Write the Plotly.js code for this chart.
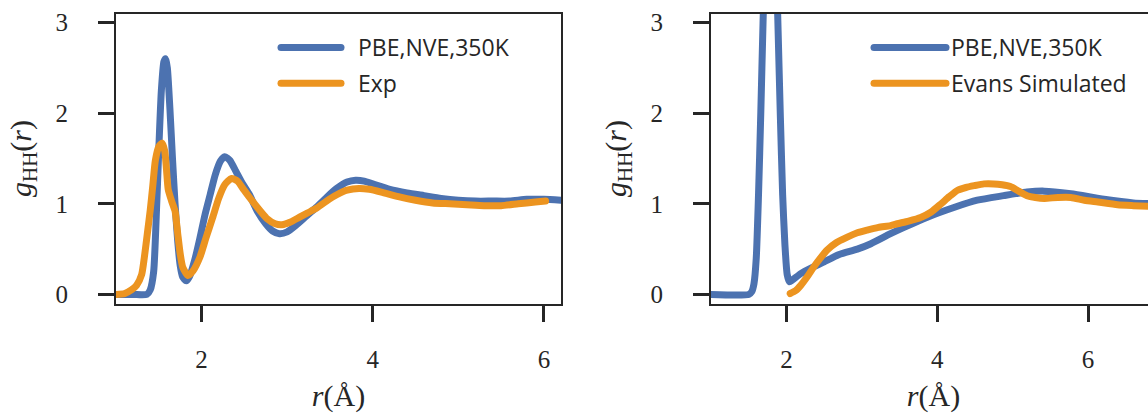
<!DOCTYPE html>
<html><head><meta charset="utf-8">
<script src="https://cdn.plot.ly/plotly-3.0.1.min.js"></script>
<style>
html,body{margin:0;padding:0;overflow:hidden;background:#fff;}
#chart{width:1160px;height:419px;}
.js-line{stroke-linecap:round !important;}
</style></head><body><div id="chart"></div><script>
// Left panel: PBE,NVE,350K
const rLeftPBE = [1.00,1.20,1.36,1.40,1.44,1.47,1.50,1.53,1.56,1.58,1.60,1.63,1.66,1.69,1.72,1.75,1.78,1.82,1.86,1.92,1.98,2.04,2.10,2.16,2.22,2.27,2.33,2.40,2.48,2.56,2.65,2.75,2.83,2.91,3.00,3.10,3.22,3.34,3.46,3.58,3.70,3.80,3.90,4.00,4.20,4.40,4.60,4.80,5.00,5.20,5.40,5.60,5.80,6.00,6.20];
const gLeftPBE = [0.00,0.00,0.00,0.05,0.25,0.85,1.60,2.25,2.57,2.60,2.50,2.05,1.50,1.00,0.60,0.32,0.19,0.15,0.20,0.38,0.62,0.88,1.10,1.32,1.47,1.52,1.48,1.36,1.22,1.10,0.92,0.78,0.70,0.67,0.69,0.76,0.86,0.96,1.07,1.17,1.24,1.26,1.25,1.22,1.16,1.12,1.09,1.06,1.04,1.03,1.03,1.03,1.05,1.05,1.04];
// Left panel: Exp
const rLeftExp = [1.00,1.10,1.18,1.24,1.30,1.33,1.37,1.40,1.43,1.46,1.50,1.54,1.57,1.59,1.61,1.65,1.69,1.72,1.75,1.78,1.84,1.90,1.98,2.05,2.13,2.20,2.27,2.35,2.42,2.49,2.56,2.66,2.76,2.86,2.94,3.04,3.14,3.24,3.34,3.46,3.58,3.70,3.84,3.96,4.10,4.30,4.50,4.70,4.90,5.10,5.30,5.50,5.70,5.90,6.02];
const gLeftExp = [0.00,0.01,0.05,0.10,0.22,0.40,0.70,0.93,1.20,1.48,1.63,1.67,1.58,1.38,1.16,1.03,0.92,0.68,0.45,0.30,0.21,0.26,0.41,0.62,0.85,1.06,1.21,1.28,1.25,1.16,1.07,0.95,0.84,0.78,0.77,0.80,0.85,0.90,0.95,1.03,1.10,1.15,1.17,1.16,1.13,1.08,1.04,1.01,1.00,0.99,0.98,0.98,1.00,1.02,1.03];
// Right panel: PBE,NVE,350K
const rRightPBE = [1.00,1.50,1.54,1.57,1.60,1.63,1.66,1.69,1.72,1.75,1.79,1.83,1.86,1.89,1.92,1.95,1.98,2.01,2.04,2.08,2.19,2.35,2.50,2.70,2.94,3.12,3.38,3.56,3.86,4.22,4.53,4.88,5.19,5.42,5.77,6.21,6.60,6.90];
const gRightPBE = [0.00,0.00,0.03,0.12,0.40,1.10,2.00,3.00,3.90,4.60,5.00,4.60,3.85,2.90,1.95,1.10,0.55,0.22,0.14,0.16,0.23,0.30,0.36,0.44,0.50,0.56,0.67,0.74,0.85,0.96,1.04,1.09,1.13,1.14,1.11,1.05,1.01,1.00];
// Right panel: Evans Simulated
const rRightEvans = [2.05,2.12,2.19,2.28,2.36,2.45,2.54,2.66,2.80,2.94,3.07,3.22,3.38,3.47,3.62,3.78,3.92,4.05,4.16,4.27,4.38,4.49,4.62,4.75,4.86,4.97,5.08,5.19,5.30,5.42,5.60,5.77,5.95,6.13,6.39,6.60,6.90];
const gRightEvans = [0.01,0.04,0.10,0.20,0.30,0.40,0.49,0.57,0.63,0.68,0.71,0.74,0.76,0.78,0.81,0.85,0.91,1.00,1.08,1.15,1.18,1.20,1.22,1.22,1.21,1.19,1.14,1.09,1.07,1.06,1.07,1.07,1.04,1.02,0.99,0.98,0.97];

const seriesNames = ['PBE,NVE,350K','Exp','Evans Simulated'];
const xTicks = [2,4,6];
const yTicks = [0,1,2,3];

const W = 1160, H = 419;
const BLUE = '#4C72B0', ORANGE = '#EC9420', INK = '#262626';
const LW = 7;

function line(x, y, name, color, xa, ya, leg, grp) {
  return {x: x, y: y, name: name, type: 'scatter', mode: 'lines',
    line: {color: color, width: LW, shape: 'spline', smoothing: 0.6},
    xaxis: xa, yaxis: ya, legend: leg, legendgroup: grp};
}
const data = [
  line(rLeftPBE, gLeftPBE, seriesNames[0], BLUE, 'x', 'y', 'legend', 'a'),
  line(rLeftExp, gLeftExp, seriesNames[1], ORANGE, 'x', 'y', 'legend', 'b'),
  line(rRightPBE, gRightPBE, seriesNames[0], BLUE, 'x2', 'y2', 'legend2', 'c'),
  line(rRightEvans, gRightEvans, seriesNames[2], ORANGE, 'x2', 'y2', 'legend2', 'd')
];

const tickFont = {family: 'Liberation Serif, DejaVu Serif, serif', size: 25, color: INK};
const titleFont = {family: 'Liberation Serif, DejaVu Serif, serif', size: 30, color: INK};
function xax(domain, range) {
  return {domain: domain, range: range, tickvals: xTicks, showline: true, mirror: true,
    linecolor: INK, linewidth: 2, ticks: 'outside', ticklen: 16, tickwidth: 3, tickcolor: INK,
    showgrid: false, zeroline: false, tickfont: tickFont, ticklabelstandoff: 16,
    title: {text: '<i>r</i>(Å)', font: titleFont, standoff: 13}};
}
function yax(domain, anchor) {
  return {domain: domain, range: [-0.1, 3.1], tickvals: yTicks, anchor: anchor, showline: true, mirror: true,
    linecolor: INK, linewidth: 2, ticks: 'outside', ticklen: 16, tickwidth: 3, tickcolor: INK,
    showgrid: false, zeroline: false, tickfont: tickFont, ticklabelstandoff: 25,
    title: {text: '<i>g</i><sub>HH</sub>(<i>r</i>)', font: titleFont, standoff: 15}};
}
const yDom = [(H - 303.5) / H, (H - 13.5) / H];
const legFont = {family: 'Open Sans, sans-serif', size: 23, color: INK};
const layout = {
  width: W, height: H, autosize: false,
  margin: {l: 0, r: 0, t: 0, b: 0},
  paper_bgcolor: '#fff', plot_bgcolor: '#fff',
  xaxis: Object.assign(xax([116 / W, 561 / W], [1.0, 6.2]), {anchor: 'y'}),
  yaxis: yax(yDom, 'x'),
  xaxis2: Object.assign(xax([711 / W, 1156 / W], [1.0, 6.9]), {anchor: 'y2'}),
  yaxis2: yax(yDom, 'x2'),
  legend: {x: 276 / W, y: 1 - 26 / H, xanchor: 'left', yanchor: 'top', font: legFont,
    bgcolor: 'rgba(0,0,0,0)', itemwidth: 72, tracegroupgap: 3},
  legend2: {x: 869 / W, y: 1 - 26 / H, xanchor: 'left', yanchor: 'top', font: legFont,
    bgcolor: 'rgba(0,0,0,0)', itemwidth: 72, tracegroupgap: 3},
  showlegend: true
};
Plotly.newPlot('chart', data, layout, {displayModeBar: false, staticPlot: true, responsive: false}).then(function () {
  document.querySelectorAll('.legend path.js-line').forEach(function (p) { p.setAttribute('d', 'M5,0h60'); });
});
</script></body></html>
